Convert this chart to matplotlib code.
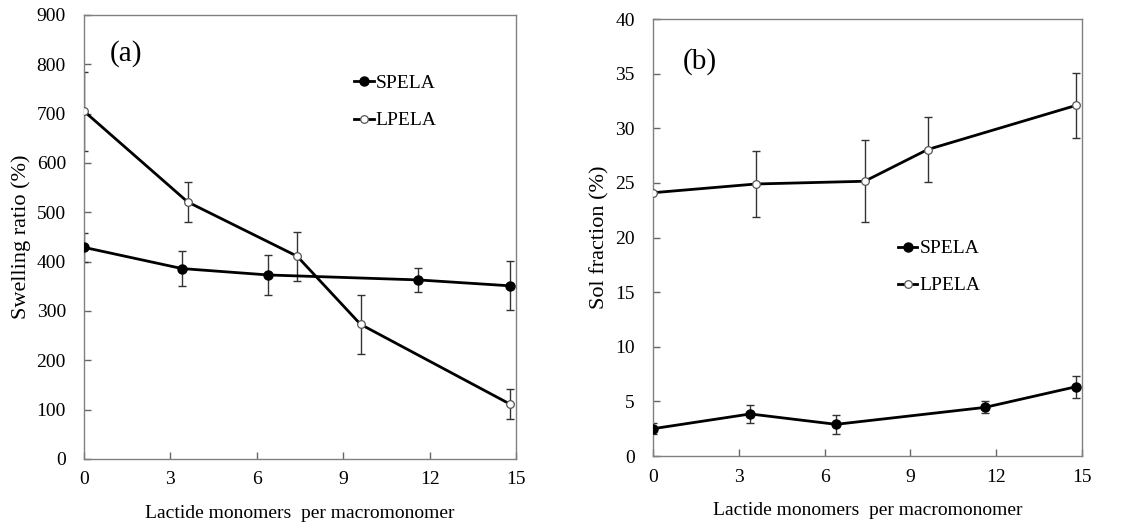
import matplotlib
matplotlib.use("Agg")
import matplotlib.pyplot as plt
import numpy as np

plt.rcParams['font.family'] = ['Liberation Serif', 'DejaVu Serif']
plt.rcParams['font.size'] = 14

# swelling ratio
sw_x_s = [0.0, 3.4, 6.4, 11.6, 14.8]
sw_s = [429, 386, 373, 363, 351]
sw_s_err = [30, 35, 40, 25, 50]
sw_x_l = [0.0, 3.6, 7.4, 9.6, 14.8]
sw_l = [705, 521, 411, 273, 111]
sw_l_err = [80, 40, 50, 60, 30]

# sol fraction
sf_x_s = [0.0, 3.4, 6.4, 11.6, 14.8]
sf_s = [2.5, 3.85, 2.9, 4.45, 6.35]
sf_s_err = [0.5, 0.8, 0.9, 0.55, 1.0]
sf_x_l = [0.0, 3.6, 7.4, 9.6, 14.8]
sf_l = [24.1, 24.9, 25.15, 28.05, 32.1]
sf_l_err = [0.0, 3.05, 3.75, 3.0, 3.0]

fig = plt.figure(figsize=(11.46, 5.31), dpi=100)
ax1 = fig.add_axes([0.0733, 0.1356, 0.377, 0.8362])
ax2 = fig.add_axes([0.5698, 0.1412, 0.3744, 0.823])


def draw(ax, xs, ys, es, xl, yl, el):
    # error bars first, then the lines with markers (legend shows only these)
    ax.errorbar(xs, ys, yerr=es, fmt='none', ecolor='#333333', elinewidth=1,
                capsize=3, capthick=1, zorder=2)
    ax.errorbar(xl, yl, yerr=el, fmt='none', ecolor='#333333', elinewidth=1,
                capsize=3, capthick=1, zorder=2)
    ax.plot(xs, ys, color='black', lw=2, marker='o', ms=6.5,
            mfc='black', mec='black', label='SPELA', zorder=3)
    ax.plot(xl, yl, color='black', lw=2, marker='o', ms=5.5,
            mfc='white', mec='#555555', mew=0.9, label='LPELA', zorder=3)
    ax.set_xlim(0, 15)
    ax.set_xticks([0, 3, 6, 9, 12, 15])
    ax.tick_params(direction='in', length=5, color='#666666', width=1,
                   labelsize=14)
    ax.tick_params(axis='x', pad=9)
    ax.tick_params(axis='y', pad=13)
    for s in ax.spines.values():
        s.set_color('#808080')
        s.set_linewidth(1)
    ax.set_xlabel('Lactide monomers  per macromonomer', fontsize=14, labelpad=12)


draw(ax1, sw_x_s, sw_s, sw_s_err, sw_x_l, sw_l, sw_l_err)
ax1.set_ylim(0, 900)
ax1.set_yticks(np.arange(0, 901, 100))
ax1.set_ylabel('Swelling ratio (%)', fontsize=16, labelpad=4)
ax1.text(0.9, 808, '(a)', fontsize=21)
ax1.legend(loc='upper left', bbox_to_anchor=(0.585, 0.905), frameon=False,
           handlelength=1.0, handletextpad=0.1, labelspacing=1.0,
           fontsize=14)

draw(ax2, sf_x_s, sf_s, sf_s_err, sf_x_l, sf_l, sf_l_err)
ax2.set_ylim(0, 40)
ax2.set_yticks(np.arange(0, 41, 5))
ax2.set_ylabel('Sol fraction (%)', fontsize=16, labelpad=4)
ax2.text(1.05, 35.5, '(b)', fontsize=21)
ax2.legend(loc='upper left', bbox_to_anchor=(0.53, 0.535), frameon=False,
           handlelength=1.0, handletextpad=0.1, labelspacing=1.0,
           fontsize=14)

fig.savefig('out.png', dpi=100)
